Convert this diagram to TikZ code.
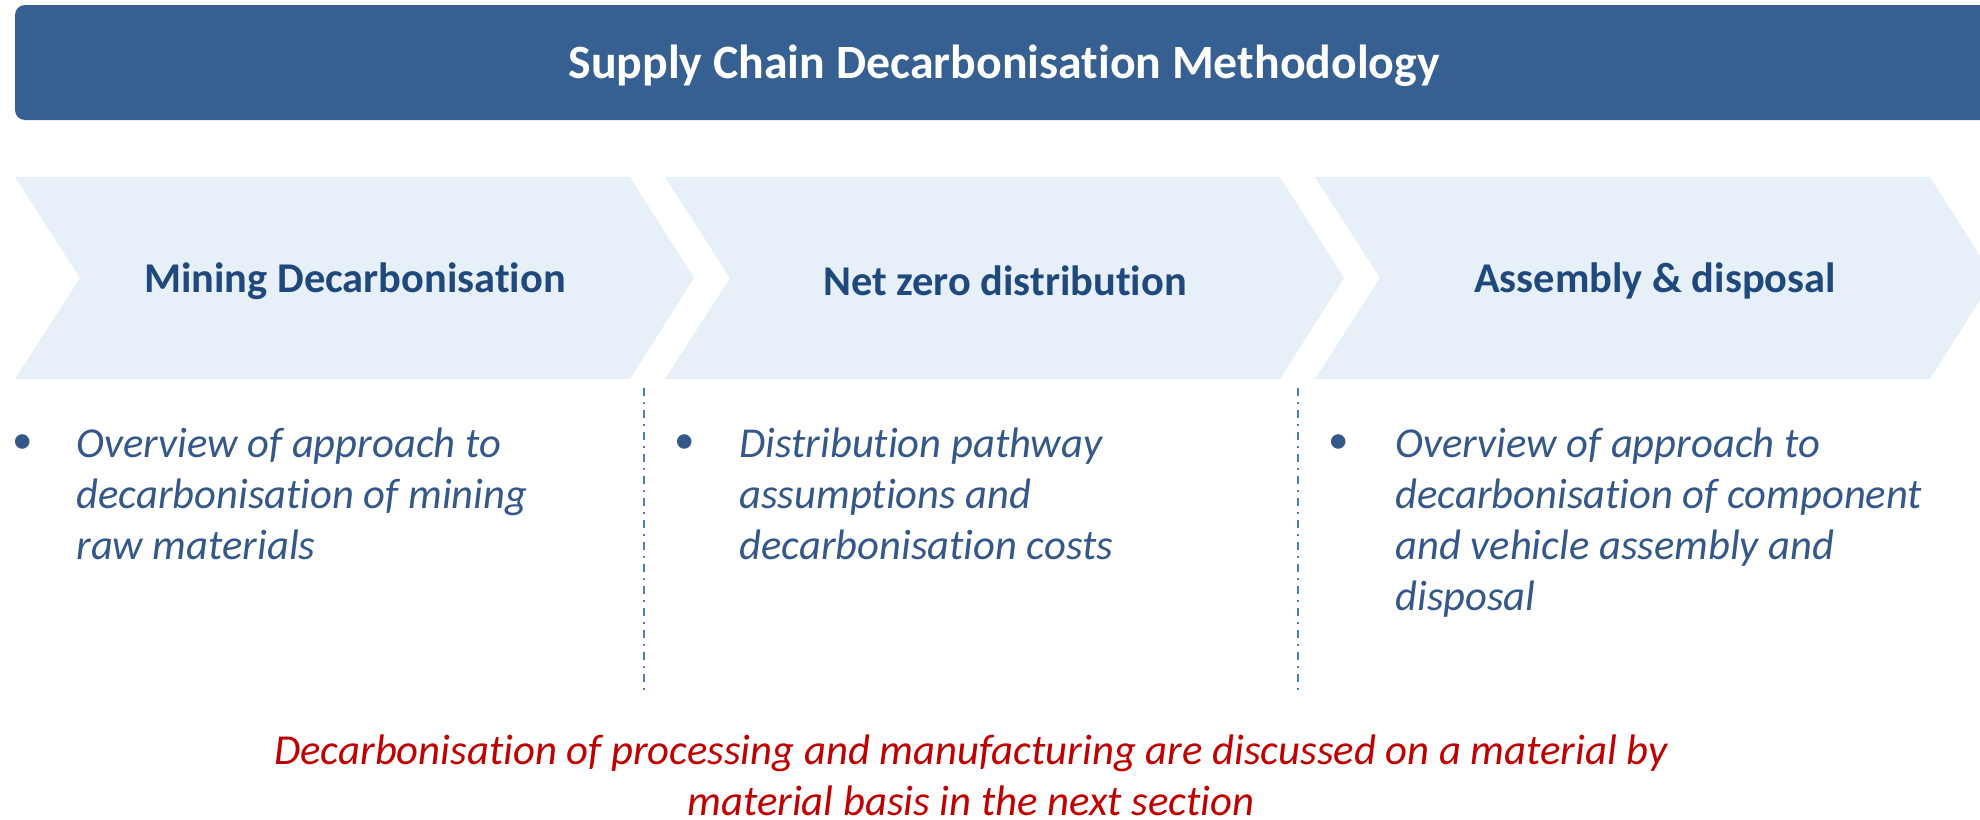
\documentclass[tikz,border=0pt]{standalone}
\usepackage{fontspec}
\setmainfont{Carlito}[Ligatures=NoCommon]
\usetikzlibrary{positioning}

\definecolor{bannerblue}{RGB}{54,96,146}
\definecolor{chevronfill}{RGB}{231,239,249}
\definecolor{headblue}{RGB}{31,73,125}
\definecolor{bodyblue}{RGB}{52,88,138}
\definecolor{ruleblue}{RGB}{74,126,187}
\definecolor{noteRed}{RGB}{192,0,0}

\tikzset{
  banner/.style={fill=bannerblue, rounded corners=5pt},
  title/.style={text=white, font=\fontsize{23.9}{28}\selectfont\bfseries},
  steplabel/.style={text=headblue, font=\fontsize{21.2}{25}\selectfont\bfseries},
  bodytext/.style={text=bodyblue, inner sep=0pt, align=left,
    font=\fontsize{21.3}{25.5}\selectfont\itshape},
  dot/.style={text=bodyblue, inner sep=0pt, font=\fontsize{20.5}{25}\selectfont},
  separator/.style={draw=ruleblue, line width=1.2pt,
    dash pattern=on 4pt off 3pt on 1pt off 3pt},
  note/.style={text=noteRed, align=center,
    font=\fontsize{21.35}{25.5}\selectfont\itshape},
}

% one chevron of the process bar
\newcommand{\Stage}[3]{
  \begin{scope}[shift={(#2,0)}]
    \fill[chevronfill] (0,177) -- (615,177) -- (679,278) -- (615,379)
      -- (0,379) -- (65,278) -- cycle;
    \node[steplabel] (#1) at (340,281) {#3};
  \end{scope}
}
% bullet and its text under a chevron
\newcommand{\Point}[4]{
  \node[dot] (#1-dot) at (#2,444) {\textbullet};
  \node[bodytext, anchor=north west] (#1) at (#3,428) {#4};
}

\begin{document}
\begin{tikzpicture}[x=0.5pt, y=-0.5pt]
  \useasboundingbox (0,0) rectangle (1980,819);

  \fill[banner] (15,5) rectangle (2000,120);
  \node[title] (heading) at (1004,66) {Supply Chain Decarbonisation Methodology};

  \Stage{mining}{15}{Mining Decarbonisation}
  \Stage{distribution}{665}{Net zero distribution}
  \Stage{assembly}{1315}{Assembly \& disposal}

  \Point{miningtext}{23}{76}{Overview of approach to\\decarbonisation of mining\\raw materials}
  \Point{distributiontext}{685}{739}{Distribution pathway\\assumptions and\\decarbonisation costs}
  \Point{assemblytext}{1339}{1395}{Overview of approach to\\decarbonisation of component\\and vehicle assembly and\\disposal}

  \coordinate (sep1-top) at (644,388);
  \coordinate (sep1-bot) at (644,690);
  \coordinate (sep2-top) at (1298,388);
  \coordinate (sep2-bot) at (1298,690);
  \draw[separator] (sep1-top) -- (sep1-bot);
  \draw[separator] (sep2-top) -- (sep2-bot);

  \node[note] (footnote) at (971,775) {Decarbonisation of processing and manufacturing are discussed on a material by\\material basis in the next section};
\end{tikzpicture}
\end{document}
